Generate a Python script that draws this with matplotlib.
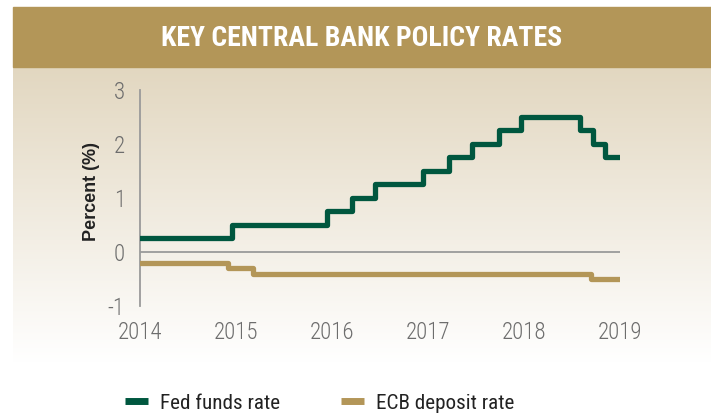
import numpy as np
import matplotlib.pyplot as plt
from matplotlib.patches import Rectangle
from matplotlib.lines import Line2D

plt.rcParams['font.family'] = ['Roboto Condensed', 'DejaVu Sans']

# step change positions (axis years) and rate values
fed_x = [2014.0, 2014.955, 2015.945, 2016.205, 2016.45, 2016.95, 2017.22,
         2017.46, 2017.74, 2017.97, 2018.58, 2018.72, 2018.84, 2019.0]
fed_y = [0.25, 0.5, 0.75, 1.0, 1.25, 1.5, 1.75, 2.0, 2.25, 2.5, 2.25, 2.0,
         1.75, 1.75]

ecb_x = [2014.0, 2014.92, 2015.18, 2018.70, 2019.0]
ecb_y = [-0.2, -0.3, -0.4, -0.5, -0.5]

years = [2014, 2015, 2016, 2017, 2018, 2019]
y_ticks = [-1, 0, 1, 2, 3]

green = '#00573f'
gold = '#b39658'

W, H = 711, 415
fig = plt.figure(figsize=(W / 100, H / 100), dpi=100)

# title banner
fig.patches.append(Rectangle((13 / W, 1 - 67 / H), 1 - 13 / W, 60 / H,
                             transform=fig.transFigure, color=gold, zorder=0))
fig.text(0.509, 1 - 38 / H, 'KEY CENTRAL BANK POLICY RATES', color='white',
         fontsize=20, fontweight='bold', ha='center', va='center')

# beige gradient panel
bg = fig.add_axes([13 / W, 1 - 363 / H, 1 - 13 / W, 296 / H], zorder=-1)
top = np.array([0.886, 0.843, 0.753])
grad = np.linspace(0, 1, 256)[:, None]
img = top[None, None, :] * (1 - grad[..., None]) + np.ones(3) * grad[..., None]
bg.imshow(img, aspect='auto', extent=[0, 1, 0, 1])
bg.axis('off')

ax = fig.add_axes([140 / W, 1 - 306 / H, 480 / W, 216 / H])
ax.patch.set_alpha(0)
ax.axhline(0, color='#9a9a9a', lw=1.3, zorder=1)
ax.step(fed_x, fed_y, where='post', color=green, lw=3.8,
        solid_joinstyle='round', solid_capstyle='round', zorder=3)
ax.step(ecb_x, ecb_y, where='post', color=gold, lw=3.8,
        solid_joinstyle='round', solid_capstyle='round', zorder=3)

ax.set_xlim(2014, 2019)
ax.set_ylim(-1, 3)
ax.set_xticks(years)
ax.set_yticks(y_ticks)
ax.set_yticklabels([str(v) for v in y_ticks])
for s in ['top', 'right', 'bottom']:
    ax.spines[s].set_visible(False)
ax.spines['left'].set_color('#9a9a9a')
ax.spines['left'].set_linewidth(1.3)
ax.tick_params(length=0, labelsize=16.5, colors='#6d6d6d')
for lab in ax.get_xticklabels() + ax.get_yticklabels():
    lab.set_fontweight('light')
ax.tick_params(axis='y', pad=11)
ax.tick_params(axis='x', pad=11)
ax.set_ylabel('Percent (%)', fontsize=13, fontweight='bold', color='#222222',
              family=['Liberation Sans', 'DejaVu Sans'])
ax.yaxis.set_label_coords(-0.083, 0.532)

handles = [Line2D([], [], color=green, lw=5, solid_capstyle='butt'),
           Line2D([], [], color=gold, lw=5, solid_capstyle='butt')]
fig.legend(handles, ['Fed funds rate', 'ECB deposit rate'], ncol=2,
           loc='center left', bbox_to_anchor=(106 / W, 1 - 403 / H),
           frameon=False, fontsize=15.2, handlelength=1.1, handletextpad=0.55,
           columnspacing=2.9, labelcolor='#222222')

fig.savefig('out.png', dpi=100)
